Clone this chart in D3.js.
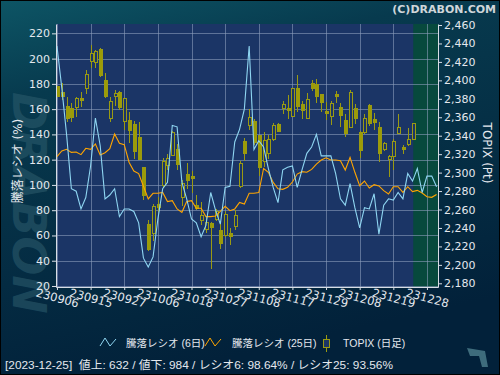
<!DOCTYPE html>
<html>
<head>
<meta charset="utf-8">
<script src="https://cdn.jsdelivr.net/npm/d3@7"></script>
<style>
  body { margin: 0; background: #022236; }
  svg { display: block; font-family: "DejaVu Sans", "Noto Sans CJK JP", sans-serif; }
</style>
</head>
<body>
<div id="chart"></div>
<script>
// x軸ラベル (7営業日ごと)
const tickLabels = ["230906", "230915", "230927", "231006", "231018", "231027",
  "231108", "231117", "231129", "231208", "231219", "231228"];
const tickIndex = [0, 7, 14, 21, 28, 35, 42, 49, 56, 63, 70, 77];

// TOPIX 日足
const topixOpen = [2393, 2387, 2372, 2369, 2371, 2380, 2391, 2420, 2419, 2433,
  2400, 2359, 2383, 2387, 2355, 2357, 2352, 2338, 2305, 2244,
  2234, 2265, 2286, 2308, 2319, 2325, 2273, 2298, 2296, 2264,
  2248, 2238, 2245, 2249, 2237, 2232, 2234, 2242, 2285, 2334,
  2351, 2355, 2340, 2312, 2321, 2336, 2352, 2369, 2369, 2361,
  2391, 2374, 2359, 2397, 2396, 2385, 2366, 2361, 2385, 2371,
  2357, 2349, 2370, 2344, 2344, 2373, 2358, 2349, 2325, 2314,
  2317, 2342, 2327, 2330, 2336];
const topixHigh = [2394, 2397, 2382, 2375, 2382, 2387, 2411, 2438, 2433, 2435,
  2408, 2382, 2390, 2388, 2381, 2366, 2356, 2355, 2305, 2249,
  2266, 2274, 2316, 2320, 2345, 2331, 2292, 2310, 2302, 2276,
  2268, 2252, 2247, 2261, 2248, 2258, 2240, 2259, 2313, 2338,
  2369, 2358, 2341, 2344, 2341, 2354, 2354, 2378, 2384, 2392,
  2406, 2378, 2386, 2400, 2401, 2385, 2377, 2378, 2389, 2375,
  2364, 2390, 2374, 2345, 2363, 2374, 2365, 2355, 2333, 2319,
  2336, 2363, 2330, 2348, 2354];
const topixLow = [2382, 2379, 2355, 2355, 2360, 2371, 2385, 2413, 2413, 2404,
  2381, 2355, 2372, 2368, 2346, 2332, 2315, 2314, 2270, 2215,
  2226, 2257, 2283, 2303, 2318, 2303, 2264, 2282, 2278, 2259,
  2243, 2234, 2196, 2248, 2217, 2230, 2222, 2238, 2283, 2313,
  2346, 2330, 2296, 2306, 2315, 2334, 2345, 2364, 2358, 2360,
  2366, 2358, 2359, 2389, 2376, 2366, 2357, 2352, 2376, 2349,
  2339, 2348, 2353, 2316, 2342, 2351, 2346, 2312, 2323, 2295,
  2303, 2342, 2320, 2329, 2336];
const topixClose = [2383, 2383, 2359, 2360, 2380, 2378, 2406, 2429, 2431, 2405,
  2383, 2377, 2386, 2371, 2380, 2346, 2323, 2314, 2275, 2217,
  2263, 2262, 2312, 2315, 2343, 2309, 2288, 2291, 2294, 2261,
  2254, 2246, 2240, 2258, 2223, 2255, 2231, 2253, 2310, 2321,
  2360, 2333, 2306, 2335, 2336, 2351, 2345, 2374, 2367, 2391,
  2372, 2367, 2379, 2391, 2382, 2376, 2364, 2375, 2382, 2362,
  2342, 2387, 2359, 2324, 2359, 2353, 2354, 2321, 2332, 2317,
  2334, 2349, 2325, 2336, 2353];

// 騰落レシオ
const ratio6 = [210, 177, 140, 97, 95, 81, 90, 115, 153, 131,
  89, 92, 97, 75, 81, 81, 79, 70, 42, 35,
  43, 73, 97, 102, 147, 146, 102, 89, 73, 70,
  59, 68, 94, 80, 69, 98, 99, 134, 144, 160,
  210, 128, 135, 130, 113, 98, 86, 112, 114, 115,
  98, 112, 125, 130, 140, 123, 123, 123, 109, 89,
  84, 101, 82, 66, 82, 81, 93, 61, 84, 89,
  88, 94, 89, 109, 103, 113, 94, 107, 107, 98.6];
const ratio25 = [122.4, 126.9, 128.2, 125.8, 126.1, 124, 129, 128.2, 132.4, 123.7,
  125.5, 128.7, 140.3, 132.9, 131.9, 118, 111, 109, 99, 89,
  93.4, 93.4, 94.1, 86.8, 87.5, 81, 78.3, 86.8, 87.5, 81.5,
  81.5, 74.9, 74.9, 75.4, 79.1, 83.1, 79.6, 81, 86.2, 84.9,
  93.4, 93.4, 94, 113, 110, 102, 97, 96.5, 98.1, 102.3,
  108.6, 110.5, 110, 112.3, 116.5, 119.7, 121.5, 119.7, 119.7, 119.2,
  111.8, 121.8, 110, 99.4, 103.1, 97.6, 100.2, 99.2, 95.5, 92.8,
  98.6, 98.6, 94.1, 98.6, 94.7, 95.7, 93.6, 90.7, 90.2, 92.5];

const ratioTicks = d3.range(20, 221, 20);
const topixTicks = d3.range(2180, 2461, 20);

// フッター
const lastDate = "2023-12-25";
const advances = 632;
const declines = 984;
const lastRatio6 = 98.64;
const lastRatio25 = 93.56;

const width = 500;
const height = 375;
const margin = { top: 24, right: 62, bottom: 88, left: 56 };
const plotW = width - margin.left - margin.right;
const plotH = height - margin.top - margin.bottom;

const x = d3.scaleLinear().domain([-0.2, 79.3]).range([0, plotW]);
const yL = d3.scaleLinear().domain([19.2, 227.4]).range([plotH, 0]);
const yR = d3.scaleLinear().domain([2176, 2461.1]).range([plotH, 0]);

const svg = d3.select("#chart").append("svg")
  .attr("width", width).attr("height", height);

// 背景
const defs = svg.append("defs");
const bg = defs.append("linearGradient").attr("id", "bg")
  .attr("x1", 0).attr("y1", 0).attr("x2", 0.3).attr("y2", 1);
bg.append("stop").attr("offset", "0%").attr("stop-color", "#0d5565");
bg.append("stop").attr("offset", "25%").attr("stop-color", "#073a4e");
bg.append("stop").attr("offset", "100%").attr("stop-color", "#02213a");

svg.append("rect").attr("width", width).attr("height", height)
  .attr("fill", "url(#bg)").attr("stroke", "#000").attr("stroke-width", 2);

// 透かし
svg.append("text")
  .attr("transform", "translate(29,92) rotate(90)")
  .attr("dominant-baseline", "central")
  .attr("font-size", 46).attr("font-weight", "bold").attr("font-style", "italic")
  .attr("fill", "#2d5d6e").attr("opacity", 0.55)
  .text("DRABON");

svg.append("text")
  .attr("x", 496).attr("y", 13)
  .attr("text-anchor", "end")
  .attr("font-size", 11).attr("font-weight", "bold")
  .attr("fill", "#cfd6da")
  .text("(C)DRABON.COM");

const g = svg.append("g").attr("transform", `translate(${margin.left},${margin.top})`);

g.append("rect").attr("width", plotW).attr("height", plotH).attr("fill", "#1b3566");

// 未来の領域
const lastIdx = topixClose.length - 1;
g.append("rect")
  .attr("x", x(lastIdx + 0.15)).attr("y", 0)
  .attr("width", plotW - x(lastIdx + 0.15)).attr("height", plotH)
  .attr("fill", "#07493d");

// グリッド
g.append("g").selectAll("line").data(ratioTicks).join("line")
  .attr("x1", 0).attr("x2", plotW)
  .attr("y1", d => Math.round(yL(d)) + 0.5).attr("y2", d => Math.round(yL(d)) + 0.5)
  .attr("stroke", "#8c9cba").attr("stroke-opacity", 0.6);
g.append("g").selectAll("line").data(tickIndex).join("line")
  .attr("x1", d => Math.round(x(d)) + 0.5).attr("x2", d => Math.round(x(d)) + 0.5)
  .attr("y1", 0).attr("y2", plotH)
  .attr("stroke", "#8c9cba").attr("stroke-opacity", 0.6);

// ローソク足
const candles = topixOpen.map((o, i) => ({
  i, o, h: topixHigh[i], l: topixLow[i], c: topixClose[i]
}));
const cg = g.append("g").attr("shape-rendering", "crispEdges");
cg.selectAll("line").data(candles).join("line")
  .attr("x1", d => Math.round(x(d.i)) + 0.5).attr("x2", d => Math.round(x(d.i)) + 0.5)
  .attr("y1", d => yR(d.h)).attr("y2", d => yR(d.l))
  .attr("stroke", "#9a9a12");
cg.selectAll("rect").data(candles).join("rect")
  .attr("x", d => Math.round(x(d.i)) - 1)
  .attr("y", d => yR(Math.max(d.o, d.c)))
  .attr("width", 3)
  .attr("height", d => Math.max(1, Math.abs(yR(d.o) - yR(d.c))))
  .attr("fill", d => d.c < d.o ? "#9c9c06" : "#1b3566")
  .attr("stroke", "#9a9a12").attr("stroke-width", 1);

// 騰落レシオ線
const line = d3.line().x((d, i) => x(i)).y(d => yL(d));
g.append("path").datum(ratio25)
  .attr("d", line).attr("fill", "none")
  .attr("stroke", "#ffa500").attr("stroke-width", 1.1);
g.append("path").datum(ratio6)
  .attr("d", line).attr("fill", "none")
  .attr("stroke", "#8fd6f2").attr("stroke-width", 1.1);

// 軸
function styleAxis(sel) {
  sel.select(".domain").attr("stroke", "#d8dde6");
  sel.selectAll(".tick line").attr("stroke", "#d8dde6");
  sel.selectAll(".tick text").attr("fill", "#e4e8ee")
    .attr("font-size", 11).attr("font-family", "DejaVu Sans");
}

g.append("g")
  .call(d3.axisLeft(yL).tickValues(ratioTicks).tickSize(4).tickPadding(2).tickSizeOuter(0))
  .call(styleAxis);

g.append("g").attr("transform", `translate(${plotW},0)`)
  .call(d3.axisRight(yR).tickValues(topixTicks).tickFormat(d3.format(","))
    .tickSize(4).tickPadding(2).tickSizeOuter(0))
  .call(styleAxis);

const xAxis = g.append("g").attr("transform", `translate(0,${plotH})`)
  .call(d3.axisBottom(x).tickValues(tickIndex)
    .tickFormat((d, i) => tickLabels[i]).tickSize(3).tickSizeOuter(0))
  .call(styleAxis);
xAxis.selectAll(".tick text")
  .attr("y", 0).attr("dy", "0.35em")
  .attr("text-anchor", "middle")
  .attr("font-size", 11.5)
  .attr("transform", "translate(0,11) rotate(15)");

// 軸タイトル
svg.append("text")
  .attr("transform", "translate(18,161) rotate(-90)")
  .attr("text-anchor", "middle").attr("dominant-baseline", "central")
  .attr("font-size", 12).attr("fill", "#e4e8ee")
  .text("騰落レシオ (%)");
svg.append("text")
  .attr("transform", "translate(487,153) rotate(90)")
  .attr("text-anchor", "middle").attr("dominant-baseline", "central")
  .attr("font-size", 12).attr("fill", "#e4e8ee")
  .text("TOPIX (Pt)");

// 凡例
const legend = svg.append("g").attr("font-size", 10.5).attr("fill", "#e4e8ee")
  .attr("font-family", "'Liberation Sans', 'Noto Sans CJK JP', sans-serif");
const zig = "M0,9 L5,1 L10,9 L16,2";
legend.append("path").attr("d", zig).attr("transform", "translate(100,337)")
  .attr("fill", "none").attr("stroke", "#8fd6f2");
legend.append("text").attr("x", 126).attr("y", 347).text("騰落レシオ (6日)");
legend.append("path").attr("d", zig).attr("transform", "translate(205,337)")
  .attr("fill", "none").attr("stroke", "#ffa500");
legend.append("text").attr("x", 232).attr("y", 347).text("騰落レシオ (25日)");
legend.append("line").attr("x1", 326.5).attr("x2", 326.5).attr("y1", 335).attr("y2", 352)
  .attr("stroke", "#9a9a12");
legend.append("rect").attr("x", 323.5).attr("y", 339.5).attr("width", 6).attr("height", 8)
  .attr("fill", "#1b3566").attr("stroke", "#9a9a12");
legend.append("text").attr("x", 343).attr("y", 347).text("TOPIX (日足)");

// フッター
svg.append("text")
  .attr("x", 5).attr("y", 369)
  .attr("font-size", 11.5).attr("fill", "#e4e8ee")
  .attr("font-family", "'Liberation Sans', 'Noto Sans CJK JP', sans-serif")
  .attr("xml:space", "preserve")
  .attr("textLength", 388).attr("lengthAdjust", "spacingAndGlyphs")
  .text(`[${lastDate}]  値上: ${advances} / 値下: ${declines} / レシオ6: ${lastRatio6.toFixed(2)}% / レシオ25: ${lastRatio25.toFixed(2)}%`);

// ロゴ
svg.append("path")
  .attr("d", "M467,348 L485,351 L488,367 L482,367 L479,356 L470,356 Z")
  .attr("fill", "#3e6c7c");
</script>
</body>
</html>
